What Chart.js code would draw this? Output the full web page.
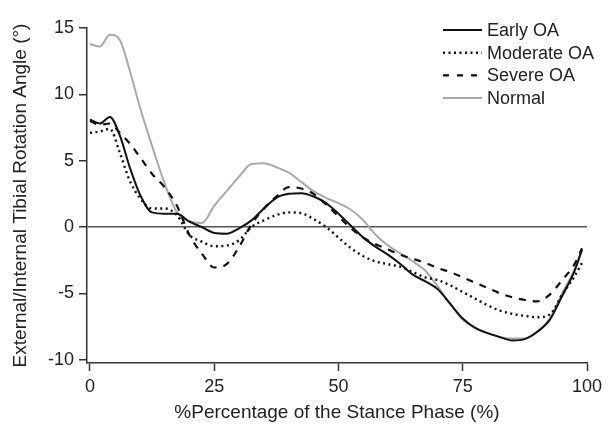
<!DOCTYPE html>
<html>
<head>
<meta charset="utf-8">
<script src="https://cdn.jsdelivr.net/npm/chart.js@4"></script>
<style>
body{margin:0;background:#fff;}
#wrap{position:relative;width:608px;height:427px;}
</style>
</head>
<body>
<div id="wrap"><canvas id="chart"></canvas></div>
<script>
// % of stance phase (x positions of the samples)
const stance = [0,2,4,6,8,10,12.5,15,17.5,20,22.5,25,27.5,30,32.5,35,37.5,40,42.5,45,47.5,50,52.5,55,57.5,60,62.5,65,67.5,70,72.5,75,77.5,80,82.5,85,87.5,90,92.5,95,97.5,99];

// rotation angle (deg)
const earlyOA = [8.1,7.8,8.3,6.9,4.5,2.5,1.1,1.0,1.0,0.4,0.0,-0.45,-0.5,-0.1,0.5,1.4,2.2,2.5,2.55,2.3,1.8,1.0,0.1,-0.8,-1.5,-2.1,-2.8,-3.6,-4.1,-4.7,-5.8,-6.9,-7.6,-8.0,-8.3,-8.55,-8.45,-7.9,-7.0,-5.2,-3.3,-1.7];
const moderateOA = [7.1,7.2,7.4,5.6,3.5,2.2,1.4,1.4,0.9,-0.6,-1.1,-1.45,-1.4,-1.0,0.0,0.5,0.9,1.1,1.05,0.6,0.0,-0.8,-1.6,-2.2,-2.6,-2.8,-3.0,-3.4,-3.8,-4.0,-4.4,-4.9,-5.4,-5.9,-6.3,-6.55,-6.7,-6.8,-6.6,-5.1,-3.7,-2.7];
const severeOA = [8.0,7.7,7.8,7.1,6.3,5.3,4.0,3.0,1.6,-0.6,-2.0,-3.05,-2.8,-1.5,0.2,1.4,2.3,3.0,2.9,2.5,1.7,0.8,-0.1,-0.8,-1.3,-1.7,-2.1,-2.4,-2.7,-3.1,-3.4,-3.8,-4.2,-4.6,-5.0,-5.3,-5.5,-5.6,-5.1,-4.0,-2.8,-1.6];
const normal = [13.8,13.6,14.5,14.1,11.8,9.1,6.1,3.3,1.1,0.45,0.3,1.6,2.7,3.8,4.75,4.8,4.5,4.1,3.4,2.7,2.2,1.8,1.3,0.5,-0.6,-1.4,-2.0,-2.6,-3.3,-4.5,-5.8,-7.0,-7.6,-8.0,-8.3,-8.4,-8.4,-7.9,-6.9,-5.0,-3.2,-1.7];

const xTicks = [0,25,50,75,100];
const yTicks = [-10,-5,0,5,10,15];

const FONT = '"Liberation Sans", Arial, sans-serif';

function pts(vals){
	return stance.map((x, i) => ({x: x, y: vals[i]}));
}

// legend with line samples, drawn in the upper right of the plot
const lineLegend = {
	id: 'lineLegend',
	afterDraw(chart){
		const ctx = chart.ctx;
		chart.data.datasets.forEach((ds, i) => {
			const y = 30 + i * 22.7;
			ctx.save();
			ctx.strokeStyle = ds.borderColor;
			ctx.lineWidth = ds.borderWidth;
			ctx.setLineDash(ds.legendDash || []);
			ctx.beginPath();
			ctx.moveTo(443, y);
			ctx.lineTo(482, y);
			ctx.stroke();
			ctx.setLineDash([]);
			ctx.fillStyle = '#222';
			ctx.font = '18px ' + FONT;
			ctx.textBaseline = 'middle';
			ctx.fillText(ds.label, 487, y + 1);
			ctx.restore();
		});
	}
};

document.addEventListener('DOMContentLoaded', () => {
	let ctx = document.querySelector('#chart').getContext('2d');
	new Chart(ctx, {
		type: 'line',
		data: {
			datasets: [
				{label: 'Early OA', data: pts(earlyOA), borderColor: '#111', borderWidth: 2},
				{label: 'Moderate OA', data: pts(moderateOA), borderColor: '#111', borderWidth: 2.4, borderDash: [2, 3.5], legendDash: [2, 3.5]},
				{label: 'Severe OA', data: pts(severeOA), borderColor: '#111', borderWidth: 2.2, borderDash: [7, 7], legendDash: [6, 8]},
				{label: 'Normal', data: pts(normal), borderColor: '#a9a9a9', borderWidth: 2}
			]
		},
		options: {
			responsive: true,
			maintainAspectRatio: false,
			animation: false,
			layout: {padding: {left: 0, top: 28, right: 21, bottom: 0}},
			elements: {
				point: {radius: 0},
				line: {cubicInterpolationMode: 'monotone', fill: false}
			},
			plugins: {legend: {display: false}, tooltip: {enabled: false}},
			scales: {
				x: {
					type: 'linear',
					min: -0.6,
					max: 100,
					afterBuildTicks: s => { s.ticks = xTicks.map(v => ({value: v})); },
					afterFit: s => { s.height = 64; },
					grid: {drawOnChartArea: false, tickLength: 8, tickColor: '#333', tickWidth: 1.5},
					border: {color: '#333', width: 1.5},
					ticks: {color: '#222', font: {size: 18, family: FONT}, padding: 5, maxRotation: 0},
					title: {display: true, text: '%Percentage of the Stance Phase (%)', color: '#222',
						font: {size: 19, family: FONT}, padding: {top: 0, bottom: 3}}
				},
				y: {
					min: -10.25,
					max: 15,
					afterBuildTicks: s => { s.ticks = yTicks.map(v => ({value: v})); },
					afterFit: s => { s.width = 87; },
					grid: {
						color: c => (c.tick && c.tick.value === 0) ? '#555' : 'rgba(0,0,0,0)',
						lineWidth: 1.5,
						tickLength: 8, tickColor: '#333', tickWidth: 1.5
					},
					border: {color: '#333', width: 1.5},
					ticks: {color: '#222', font: {size: 18, family: FONT}, padding: 5},
					title: {display: true, text: 'External/Internal Tibial Rotation Angle (°)', color: '#222',
						font: {size: 19, family: FONT}, padding: {top: 9, bottom: 0}}
				}
			}
		},
		plugins: [lineLegend]
	});
});
</script>
</body>
</html>
